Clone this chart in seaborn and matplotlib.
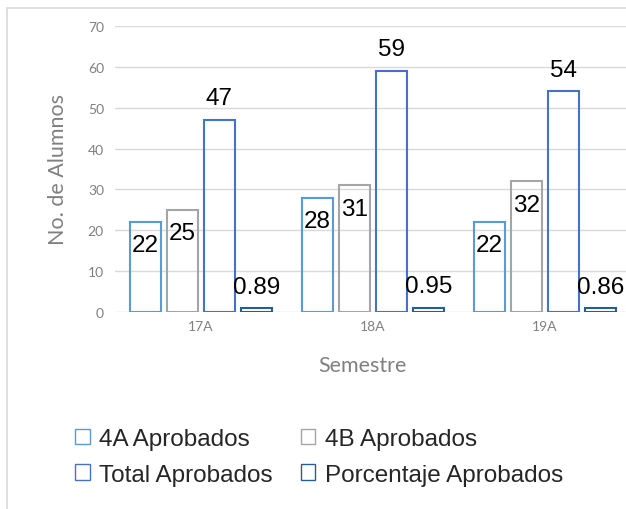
import pandas as pd
import numpy as np
import matplotlib.pyplot as plt
import seaborn as sns
from matplotlib.patches import Patch, Rectangle

# Data
semestres = ['17A', '18A', '19A']
series = ['4A Aprobados', '4B Aprobados', 'Total Aprobados', 'Porcentaje Aprobados']
aprobados_4a = [22, 28, 22]
aprobados_4b = [25, 31, 32]
total_aprobados = [47, 59, 54]
porcentaje = [0.89, 0.95, 0.86]
colors = ['#5B9BD5', '#A5A5A5', '#4472C4', '#255E91']

# label offsets: first two series labelled inside the bar, last two above
label_offset = [-5.7, -5.7, 5.3, 5.3]


def build_df():
    rows = []
    for name, vals in zip(series, [aprobados_4a, aprobados_4b, total_aprobados, porcentaje]):
        for sem, v in zip(semestres, vals):
            rows.append({'Semestre': sem, 'Serie': name, 'Valor': v})
    return pd.DataFrame(rows)


def main():
    df = build_df()
    sns.set_style('white')
    plt.rcParams['font.family'] = ['Liberation Sans', 'DejaVu Sans']

    fig = plt.figure(figsize=(6.26, 5.10), dpi=100)
    W, H = 626, 510
    ax_left, ax_right, ax_top, ax_bot = 115, 631, 27, 313
    ax = fig.add_axes([ax_left / W, 1 - ax_bot / H, (ax_right - ax_left) / W, (ax_bot - ax_top) / H])

    # outer frame
    fig.patches.append(Rectangle((7 / W, -0.1), 1.2, 1 - 9 / H + 0.1, transform=fig.transFigure,
                                 fill=False, edgecolor='#D9D9D9', linewidth=1.2))

    sns.barplot(data=df, x='Semestre', y='Valor', hue='Serie', hue_order=series,
                palette=colors, fill=False, width=0.86, gap=0.163, linewidth=1.5,
                legend=False, ax=ax, errorbar=None)

    # data labels
    for i, cont in enumerate(ax.containers):
        for bar, v in zip(cont, df[df['Serie'] == series[i]]['Valor']):
            xc = bar.get_x() + bar.get_width() / 2
            txt = f'{v:.2f}' if v < 1 else f'{int(v)}'
            ax.text(xc, v + label_offset[i], txt, ha='center', va='center',
                    fontsize=17.5, color='black', clip_on=False)

    ax.set_xlim(-0.5, 2.5)
    ax.set_ylim(0, 70)
    ax.set_yticks(range(0, 71, 10))
    ax.yaxis.grid(True, color='#D9D9D9', linewidth=1)
    ax.set_axisbelow(True)
    for s in ax.spines.values():
        s.set_visible(False)
    ax.tick_params(axis='both', length=0, labelsize=10, labelcolor='#808080')
    ax.tick_params(axis='y', pad=8)
    ax.tick_params(axis='x', pad=6)
    for lbl in ax.get_xticklabels() + ax.get_yticklabels():
        lbl.set_family('Lato')

    ax.set_ylabel('No. de Alumnos', fontsize=15.5, color='#808080', family='Lato')
    ax.set_xlabel('Semestre', fontsize=15.5, color='#808080', family='Lato')
    ax.yaxis.set_label_coords((58 - ax_left) / (ax_right - ax_left), 0.5)
    ax.xaxis.set_label_coords((362 - ax_left) / (ax_right - ax_left), -(366 - ax_bot) / (ax_bot - ax_top))
    ax.xaxis.label.set_va('center')
    ax.yaxis.label.set_va('center')

    # legend: column-wise fill -> order 4A, Total, 4B, Porcentaje
    order = [0, 2, 1, 3]
    handles = [Patch(facecolor='white', edgecolor=colors[k], linewidth=1.0) for k in order]
    labels = [series[k] for k in order]
    fig.legend(handles, labels, ncol=2, frameon=False, fontsize=17.5,
               loc='center left', bbox_to_anchor=(75 / W, 1 - 458 / H),
               borderpad=0, borderaxespad=0,
               handlelength=0.6, handleheight=0.6, handletextpad=0.4,
               columnspacing=1.15, labelspacing=0.55)

    fig.savefig('out.png', dpi=100)


if __name__ == "__main__":
    main()
